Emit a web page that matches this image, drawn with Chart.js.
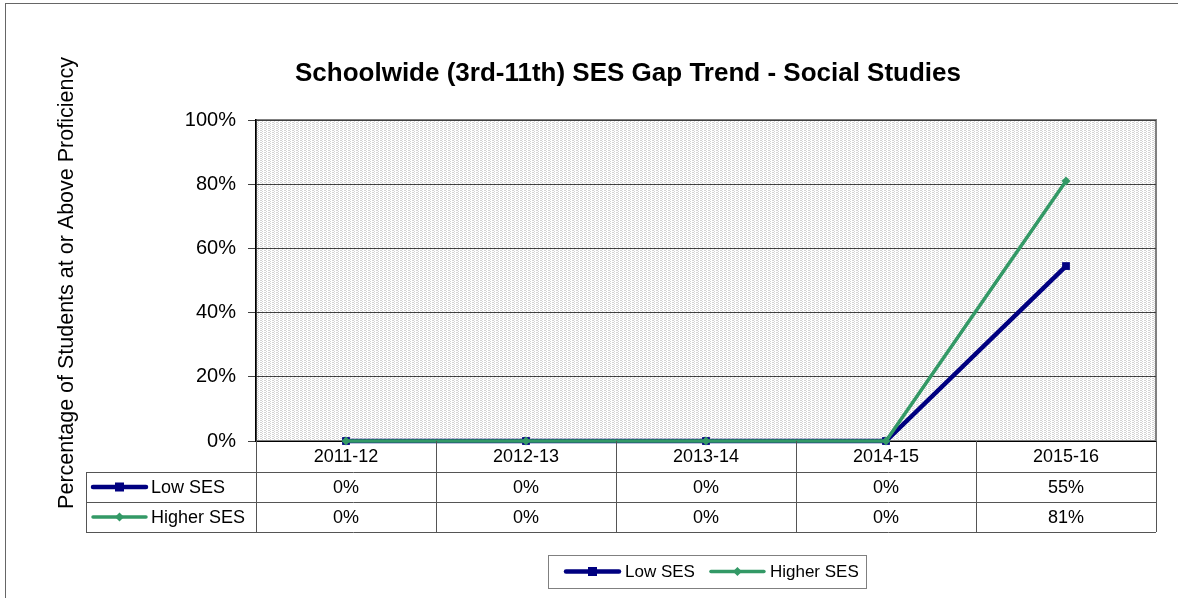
<!DOCTYPE html>
<html>
<head>
<meta charset="utf-8">
<script src="https://cdn.jsdelivr.net/npm/chart.js@4"></script>
<style>
  html, body { margin: 0; padding: 0; background: #fff; }
  #wrap { width: 1178px; height: 598px; position: relative; }
</style>
</head>
<body>
<div id="wrap"><canvas id="chart"></canvas></div>
<script>
// data
const years = ['2011-12', '2012-13', '2013-14', '2014-15', '2015-16'];
const lowSES = [0, 0, 0, 0, 54.5];
const higherSES = [0, 0, 0, 0, 81];
const yTicks = [0, 20, 40, 60, 80, 100];

const chartTitle = 'Schoolwide (3rd-11th) SES Gap Trend - Social Studies';
const yTitle = 'Percentage of Students at or Above Proficiency';

const NAVY = '#000080';
const GREEN = '#339966';
const FONT = 'Arial, "Liberation Sans", sans-serif';

// dotted fill like the old excel plot area
function makePattern() {
    const c = document.createElement('canvas');
    c.width = 4; c.height = 4;
    const g = c.getContext('2d');
    g.fillStyle = '#ffffff';
    g.fillRect(0, 0, 4, 4);
    g.fillStyle = '#d4d4d4';
    // columns of dots, a bit like the excel 'dotted' fill
    [[0, 0], [0, 2], [2, 1], [2, 3], [1, 0], [1, 2]].forEach(p => g.fillRect(p[0], p[1], 1, 1));
    return g.createPattern(c, 'repeat');
}

function drawKey(ctx, x0, x1, y, ds) {
    ctx.save();
    ctx.strokeStyle = ds.borderColor;
    ctx.lineWidth = ds.borderWidth;
    ctx.lineCap = 'round';
    ctx.beginPath();
    ctx.moveTo(x0, y);
    ctx.lineTo(x1, y);
    ctx.stroke();
    const mx = (x0 + x1) / 2;
    ctx.fillStyle = ds.borderColor;
    if (ds.pointStyle === 'rect') {
        ctx.fillRect(mx - 4.5, y - 4.5, 9, 9);
    } else {
        ctx.beginPath();
        ctx.moveTo(mx, y - 4.5);
        ctx.lineTo(mx + 4.5, y);
        ctx.lineTo(mx, y + 4.5);
        ctx.lineTo(mx - 4.5, y);
        ctx.closePath();
        ctx.fill();
    }
    ctx.restore();
}

const excelDecor = {
    id: 'excelDecor',
    beforeDraw(chart) {
        const ctx = chart.ctx;
        const a = chart.chartArea;
        ctx.save();
        // outer frame
        ctx.strokeStyle = '#666666';
        ctx.lineWidth = 1;
        ctx.strokeRect(5.5, 3.5, 1400, 800);
        // plot area
        ctx.fillStyle = makePattern();
        ctx.fillRect(a.left, a.top, a.right - a.left, a.bottom - a.top);
        ctx.strokeStyle = '#808080';
        ctx.lineWidth = 2;
        ctx.strokeRect(a.left, a.top, a.right - a.left, a.bottom - a.top);
        ctx.restore();
    },
    afterDraw(chart) {
        const ctx = chart.ctx;
        const a = chart.chartArea;
        const xs = chart.scales.x;
        const colW = (xs.right - xs.left) / years.length;
        const rowH = 30;
        const tableLeft = 86;
        const r1 = Math.round(a.bottom) + 31;
        const rows = [r1, r1 + rowH, r1 + 2 * rowH];

        ctx.save();
        // title
        ctx.fillStyle = '#000';
        ctx.font = 'bold 26px ' + FONT;
        ctx.textAlign = 'center';
        ctx.textBaseline = 'middle';
        ctx.fillText(chartTitle, 628, 74);

        // y axis title
        ctx.save();
        ctx.translate(67, 283);
        ctx.rotate(-Math.PI / 2);
        ctx.font = '21.5px ' + FONT;
        ctx.fillText(yTitle, 0, 0);
        ctx.restore();

        // data table grid
        ctx.strokeStyle = '#555555';
        ctx.lineWidth = 1;
        ctx.beginPath();
        rows.forEach(y => {
            ctx.moveTo(tableLeft, y + 0.5);
            ctx.lineTo(xs.right, y + 0.5);
        });
        ctx.moveTo(tableLeft + 0.5, rows[0]);
        ctx.lineTo(tableLeft + 0.5, rows[2]);
        for (let i = 0; i <= years.length; i++) {
            const x = Math.round(xs.left + i * colW) + 0.5;
            ctx.moveTo(x, a.bottom);
            ctx.lineTo(x, rows[2]);
        }
        ctx.stroke();

        // rows: key + values
        const series = [lowSES, higherSES];
        ctx.font = '18px ' + FONT;
        chart.data.datasets.forEach((ds, r) => {
            const cy = rows[r] + rowH / 2;
            drawKey(ctx, 93, 146, cy, ds);
            ctx.fillStyle = '#000';
            ctx.textAlign = 'left';
            ctx.fillText(ds.label, 151, cy + 1);
            ctx.textAlign = 'center';
            series[r].forEach((v, i) => {
                ctx.fillText(Math.round(v) + '%', xs.getPixelForValue(i), cy + 1);
            });
        });

        // legend box
        const lx = 548, ly = 555, lw = 318, lh = 33;
        ctx.strokeStyle = '#808080';
        ctx.strokeRect(lx + 0.5, ly + 0.5, lw, lh);
        ctx.font = '17px ' + FONT;
        let x = 566;
        const ly0 = ly + lh / 2;
        chart.data.datasets.forEach(ds => {
            drawKey(ctx, x, x + 53, ly0, ds);
            ctx.fillStyle = '#000';
            ctx.textAlign = 'left';
            ctx.fillText(ds.label, x + 59, ly0 + 1);
            x += 59 + ctx.measureText(ds.label).width + 16;
        });
        ctx.restore();
    }
};

new Chart(document.getElementById('chart'), {
    type: 'line',
    data: {
        labels: years,
        datasets: [
            {
                label: 'Low SES',
                data: lowSES,
                borderColor: NAVY,
                backgroundColor: NAVY,
                borderWidth: 4.5,
                pointStyle: 'rect',
                pointRadius: 5.5,
                pointBorderWidth: 0,
                clip: false,
                order: 1
            },
            {
                label: 'Higher SES',
                data: higherSES,
                borderColor: GREEN,
                backgroundColor: GREEN,
                borderWidth: 3.5,
                pointStyle: 'rectRot',
                pointRadius: 4.5,
                pointBorderWidth: 0,
                clip: false,
                order: 0
            }
        ]
    },
    options: {
        responsive: true,
        maintainAspectRatio: false,
        animation: false,
        layout: { padding: { top: 120, right: 22, left: 0, bottom: 0 } },
        plugins: {
            legend: { display: false },
            title: { display: false },
            tooltip: { enabled: false }
        },
        scales: {
            x: {
                offset: true,
                grid: { display: false, tickLength: 0 },
                border: { display: true, color: '#000', width: 1 },
                ticks: {
                    color: '#000',
                    padding: 5,
                    font: { family: FONT, size: 18 }
                },
                afterFit(scale) { scale.height = 157; }
            },
            y: {
                min: 0,
                max: 100,
                afterBuildTicks(scale) { scale.ticks = yTicks.map(v => ({ value: v })); },
                grid: { color: '#404040', lineWidth: 1, tickLength: 8, drawTicks: true },
                border: { display: true, color: '#000', width: 1.5 },
                ticks: {
                    color: '#000',
                    padding: 12,
                    font: { family: FONT, size: 20 },
                    callback: v => v + '%'
                },
                afterFit(scale) { scale.width = 256; }
            }
        }
    },
    plugins: [excelDecor]
});
</script>
</body>
</html>
